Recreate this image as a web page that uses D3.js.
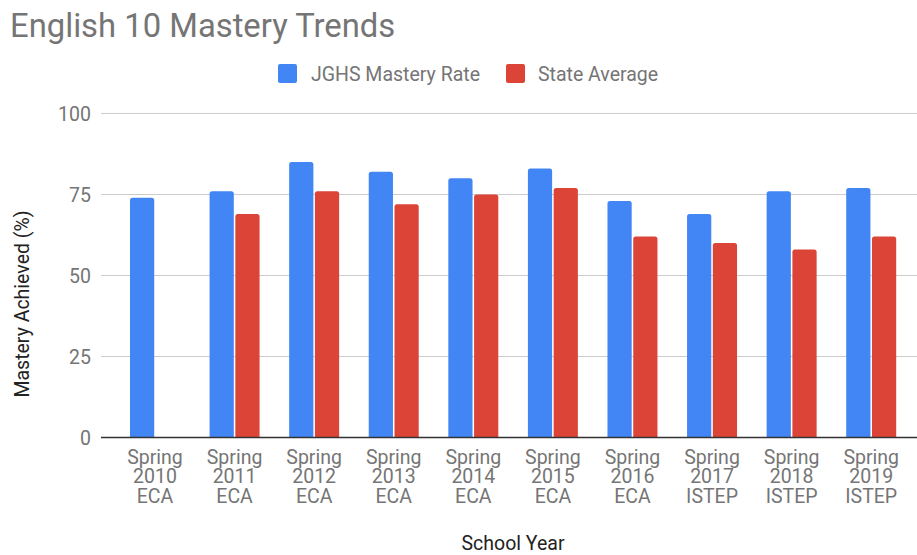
<!DOCTYPE html>
<html><head><meta charset="utf-8">
<script src="https://cdn.jsdelivr.net/npm/d3@7"></script>
<style>body{margin:0;background:#fff}svg{display:block;font-family:Roboto,"Noto Sans",sans-serif}</style>
</head><body><svg id="c" width="917" height="555"></svg>
<script>
const categories = [
  ["Spring","2010","ECA"],["Spring","2011","ECA"],["Spring","2012","ECA"],["Spring","2013","ECA"],
  ["Spring","2014","ECA"],["Spring","2015","ECA"],["Spring","2016","ECA"],["Spring","2017","ISTEP"],
  ["Spring","2018","ISTEP"],["Spring","2019","ISTEP"]
];
const seriesNames = ["JGHS Mastery Rate","State Average"];
const jghs  = [74, 76, 85, 82, 80, 83, 73, 69, 76, 77];
const state = [null, 69, 76, 72, 75, 77, 62, 60, 58, 62];
const yTicks = [0, 25, 50, 75, 100];
const colors = ["#4285F4","#DB4437"];

(function(){
const svg = d3.select("#c");
const keys = categories.map(c => c.join(" "));
const plotL = 101, plotR = 917, plotTop = 113.5, plotBottom = 437.5;
const fs = 19.5;

const x0 = d3.scaleBand().domain(keys).range([115.2, 911]).paddingInner(0.372).paddingOuter(0.186);
const x1 = d3.scaleBand().domain(seriesNames).range([0, x0.bandwidth()]).paddingInner(0.06);
const y = d3.scaleLinear().domain([0, 100]).range([plotBottom, plotTop]);

svg.append("text").attr("x", 10).attr("y", 37).attr("font-size", 32.8).attr("fill", "#757575").text("English 10 Mastery Trends");

const leg = [{x: 278, tx: 311}, {x: 506, tx: 538}];
seriesNames.forEach((s, i) => {
  svg.append("rect").attr("x", leg[i].x).attr("y", 64).attr("width", 19).attr("height", 19).attr("rx", 2).attr("fill", colors[i]);
  svg.append("text").attr("x", leg[i].tx).attr("y", 80.5).attr("font-size", fs).attr("fill", "#757575").text(s);
});

svg.append("g").selectAll("line").data(yTicks.filter(d => d > 0)).join("line")
  .attr("x1", plotL).attr("x2", plotR).attr("y1", d => y(d)).attr("y2", d => y(d))
  .attr("stroke", "#cccccc").attr("stroke-width", 1);
svg.append("g").selectAll("text").data(yTicks).join("text")
  .attr("x", 91).attr("y", d => y(d) + 7).attr("text-anchor", "end").attr("font-size", fs).attr("fill", "#757575").text(d => d);

function barPath(x, w, yTop, yBot, r) {
  r = Math.min(r, (yBot - yTop));
  return `M${x},${yBot}V${yTop + r}Q${x},${yTop} ${x + r},${yTop}H${x + w - r}Q${x + w},${yTop} ${x + w},${yTop + r}V${yBot}Z`;
}
const series = [jghs, state];
series.forEach((vals, si) => {
  svg.append("g").selectAll("path").data(vals.map((v, i) => ({v, k: keys[i]})).filter(d => d.v != null)).join("path")
    .attr("d", d => barPath(x0(d.k) + x1(seriesNames[si]), x1.bandwidth(), y(d.v), y(0), 2.5))
    .attr("fill", colors[si]);
});

svg.append("line").attr("x1", plotL).attr("x2", plotR).attr("y1", y(0)).attr("y2", y(0)).attr("stroke", "#333").attr("stroke-width", 1.5);

const xl = svg.append("g").selectAll("text").data(categories).join("text")
  .attr("text-anchor", "middle").attr("font-size", fs).attr("fill", "#757575");
xl.each(function(d, i) {
  const t = d3.select(this);
  d.forEach((line, j) => t.append("tspan").attr("x", x0(keys[i]) + x0.bandwidth() / 2).attr("y", 463.5 + j * 19.5).text(line));
});

svg.append("text").attr("x", 513).attr("y", 550).attr("text-anchor", "middle").attr("font-size", fs).attr("fill", "#222").text("School Year");
svg.append("text").attr("transform", "translate(29,304) rotate(-90)").attr("text-anchor", "middle").attr("font-size", fs).attr("fill", "#222").text("Mastery Achieved (%)");
})();
</script></body></html>
